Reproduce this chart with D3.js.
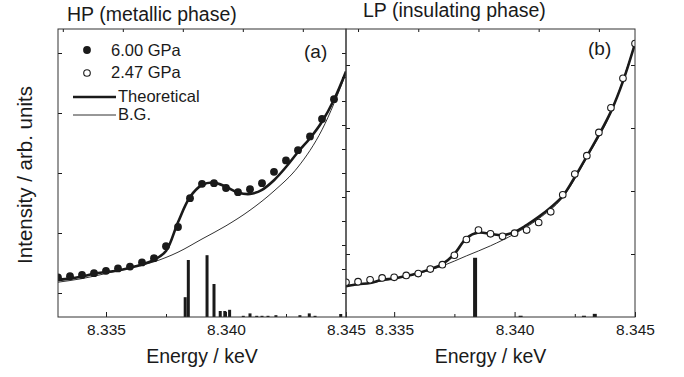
<!DOCTYPE html>
<html>
<head>
<meta charset="utf-8">
<script src="https://cdn.jsdelivr.net/npm/d3@7"></script>
<style>
  body { margin: 0; background: #fff; }
  svg { font-family: "Liberation Sans", Arial, sans-serif; }
</style>
</head>
<body>
<div id="chart"></div>
<script>
// energies of the measured points (keV)
const energyPts = [8.3330, 8.3335, 8.3340, 8.3345, 8.3350, 8.3355, 8.3360, 8.3365, 8.3370, 8.3375,
                   8.3380, 8.3385, 8.3390, 8.3395, 8.3400, 8.3405, 8.3410, 8.3415, 8.3420, 8.3425,
                   8.3430, 8.3435, 8.3440, 8.3445, 8.3450];

// HP, 6.00 GPa
const hpObs = [0.66, 0.68, 0.70, 0.73, 0.77, 0.81, 0.84, 0.91, 0.98, 1.18,
               1.50, 1.98, 2.22, 2.23, 2.15, 2.08, 2.13, 2.23, 2.42, 2.61,
               2.78, 3.01, 3.30, 3.63, null];
const hpTheory = [0.62, 0.64, 0.675, 0.72, 0.75, 0.775, 0.82, 0.875, 0.95, 1.10,
                  1.58, 2.00, 2.20, 2.24, 2.17, 2.075, 2.05, 2.12, 2.28, 2.50,
                  2.75, 2.98, 3.255, 3.62, 4.09];

// LP, 2.47 GPa
const lpObs = [0.55, 0.56, 0.59, 0.62, 0.63, 0.66, 0.69, 0.76, 0.83, 0.98,
               1.23, 1.38, 1.32, 1.28, 1.33, 1.38, 1.50, 1.67, 1.94, 2.27,
               2.56, 2.93, 3.32, 3.79, 4.34];
const lpTheory = [0.49, 0.52, 0.54, 0.59, 0.61, 0.65, 0.70, 0.76, 0.84, 1.00,
                  1.25, 1.34, 1.32, 1.30, 1.35, 1.46, 1.59, 1.74, 1.92, 2.22,
                  2.55, 2.89, 3.26, 3.74, 4.34];

// background curves
const bgEnergy = [8.333, 8.334, 8.335, 8.336, 8.337, 8.338, 8.339, 8.340, 8.341, 8.342, 8.343, 8.344, 8.345];
const hpBG = [0.58, 0.64, 0.725, 0.82, 0.92, 1.08, 1.30, 1.52, 1.78, 2.10, 2.50, 3.12, 4.06];
const lpBG = [0.49, 0.54, 0.61, 0.69, 0.81, 0.97, 1.13, 1.32, 1.56, 1.90, 2.53, 3.25, 4.34];

// calculated transitions (stick spectra)
const hpStickE = [8.33830, 8.33843, 8.33921, 8.33950, 8.33976, 8.33995, 8.34015, 8.34072, 8.34100,
                  8.34128, 8.34150, 8.34175, 8.34208, 8.34308, 8.34347, 8.34371, 8.34478];
const hpStickH = [0.33, 0.95, 1.03, 0.55, 0.10, 0.10, 0.12, 0.02, 0.06,
                  0.02, 0.02, 0.02, 0.03, 0.03, 0.06, 0.02, 0.05];
const lpStickE = [8.33836, 8.34025, 8.34288, 8.34333];
const lpStickH = [0.94, 0.02, 0.02, 0.05];

// ticks
const xTicks = [8.335, 8.340, 8.345];
const xMinorTicks = [8.3375, 8.3425];
const hpTopTicks = [8.3332, 8.3357, 8.3382, 8.3407, 8.3432];
const lpTopTicks = [8.3335, 8.3360, 8.3385, 8.3410, 8.3435];
const hpLeftTicks = [0.4, 1.4, 2.4, 3.4, 4.4];
const hpRightTicks = [0.4, 0.8, 1.2, 1.6, 2.0, 2.4, 2.8, 3.2, 3.6, 4.0, 4.4];
const lpTicks = [1, 2, 3, 4];

const width = 684, height = 377;
const plotTop = 29, plotBottom = 317;
const ink = "#1a1a1a";

const svg = d3.select("#chart").append("svg")
  .attr("width", width)
  .attr("height", height);

function drawPanel(p) {
  const g = svg.append("g");
  const x = d3.scaleLinear().domain([8.333, 8.345]).range([p.left, p.right]);
  const y = d3.scaleLinear().domain([0, p.yMax]).range([plotBottom, plotTop]);

  g.append("clipPath").attr("id", p.id + "-clip")
    .append("rect")
    .attr("x", p.left).attr("y", plotTop)
    .attr("width", p.right - p.left).attr("height", plotBottom - plotTop);

  const plot = g.append("g").attr("clip-path", `url(#${p.id}-clip)`);

  // sticks
  plot.selectAll(".stick")
    .data(p.stickE.map((e, i) => ({ e, h: p.stickH[i] })))
    .join("rect")
    .attr("x", d => x(d.e) - p.stickW / 2)
    .attr("y", d => y(d.h))
    .attr("width", p.stickW)
    .attr("height", d => y(0) - y(d.h))
    .attr("fill", ink);

  // background
  const bgLine = d3.line().x((d, i) => x(bgEnergy[i])).y(d => y(d)).curve(d3.curveMonotoneX);
  plot.append("path").attr("d", bgLine(p.bg))
    .attr("fill", "none").attr("stroke", ink).attr("stroke-width", 0.9);

  // theoretical
  const thLine = d3.line().x((d, i) => x(energyPts[i])).y(d => y(d)).curve(d3.curveCatmullRom.alpha(0.5));
  plot.append("path").attr("d", thLine(p.theory))
    .attr("fill", "none").attr("stroke", ink).attr("stroke-width", 2.6);

  // observed
  const pts = p.obs.map((v, i) => ({ e: energyPts[i], v })).filter(d => d.v !== null);
  plot.selectAll(".pt")
    .data(pts)
    .join("circle")
    .attr("cx", d => x(d.e))
    .attr("cy", d => y(d.v))
    .attr("r", p.filled ? 3.9 : 3.3)
    .attr("fill", p.filled ? ink : "#fff")
    .attr("stroke", ink)
    .attr("stroke-width", p.filled ? 0 : 1.1);

  // axes
  const bx = g.append("g").attr("transform", `translate(0,${plotBottom})`)
    .call(d3.axisBottom(x).tickValues(xTicks).tickSizeInner(-5).tickSizeOuter(0)
      .tickPadding(7).tickFormat(d3.format(".3f")));
  bx.selectAll("text").attr("font-size", "15.5px").attr("fill", ink)
    .attr("font-family", "Liberation Sans, Arial, sans-serif");

  g.append("g").attr("transform", `translate(0,${plotBottom})`)
    .call(d3.axisBottom(x).tickValues(xMinorTicks).tickSizeInner(-3).tickSizeOuter(0).tickFormat(""));

  g.append("g").attr("transform", `translate(0,${plotTop})`)
    .call(d3.axisTop(x).tickValues(p.topTicks).tickSizeInner(-3).tickSizeOuter(0).tickFormat(""));

  g.append("g").attr("transform", `translate(${p.left},0)`)
    .call(d3.axisLeft(y).tickValues(p.leftTicks).tickSizeInner(-4).tickSizeOuter(0).tickFormat(""));

  g.append("g").attr("transform", `translate(${p.right},0)`)
    .call(d3.axisRight(y).tickValues(p.rightTicks).tickSizeInner(-4).tickSizeOuter(0).tickFormat(""));

  g.selectAll(".domain").remove();
  g.selectAll(".tick line").attr("stroke", ink);

  // frame
  g.append("rect")
    .attr("x", p.left).attr("y", plotTop)
    .attr("width", p.right - p.left).attr("height", plotBottom - plotTop)
    .attr("fill", "none").attr("stroke", "#333").attr("stroke-width", 1);

  // texts
  g.append("text")
    .attr("x", p.titleX).attr("y", p.titleY)
    .attr("font-size", "19.5px").attr("fill", ink)
    .text(p.title);

  g.append("text")
    .attr("x", p.tagX).attr("y", p.tagY)
    .attr("font-size", "19px").attr("fill", ink)
    .text(p.tag);

  g.append("text")
    .attr("x", (p.left + p.right) / 2).attr("y", 363)
    .attr("text-anchor", "middle")
    .attr("font-size", "19.5px").attr("fill", ink)
    .text("Energy / keV");
}

drawPanel({
  id: "hp", left: 58, right: 346, yMax: 4.8,
  obs: hpObs, theory: hpTheory, bg: hpBG, filled: true,
  stickE: hpStickE, stickH: hpStickH, stickW: 3,
  topTicks: hpTopTicks, leftTicks: hpLeftTicks, rightTicks: hpRightTicks,
  title: "HP (metallic phase)", titleX: 67, titleY: 21,
  tag: "(a)", tagX: 304, tagY: 58
});

drawPanel({
  id: "lp", left: 346, right: 635, yMax: 288 / 63,
  obs: lpObs, theory: lpTheory, bg: lpBG, filled: false,
  stickE: lpStickE, stickH: lpStickH, stickW: 4,
  topTicks: lpTopTicks, leftTicks: lpTicks, rightTicks: lpTicks,
  title: "LP (insulating phase)", titleX: 363, titleY: 17,
  tag: "(b)", tagX: 588, tagY: 54.5
});

// y axis label
svg.append("text")
  .attr("transform", "translate(32,175) rotate(-90)")
  .attr("text-anchor", "middle")
  .attr("font-size", "20.5px").attr("fill", ink)
  .text("Intensity / arb. units");

// legend (panel a)
const legend = svg.append("g").attr("font-size", "16.5px").attr("fill", ink);
legend.append("circle").attr("cx", 87).attr("cy", 50).attr("r", 3.9).attr("fill", ink);
legend.append("text").attr("x", 111).attr("y", 56).text("6.00 GPa");
legend.append("circle").attr("cx", 87).attr("cy", 73).attr("r", 3.3)
  .attr("fill", "#fff").attr("stroke", ink).attr("stroke-width", 1.1);
legend.append("text").attr("x", 111).attr("y", 78).text("2.47 GPa");
legend.append("line").attr("x1", 73).attr("x2", 116).attr("y1", 97).attr("y2", 97)
  .attr("stroke", ink).attr("stroke-width", 2.6);
legend.append("text").attr("x", 118).attr("y", 102).text("Theoretical");
legend.append("line").attr("x1", 73).attr("x2", 116).attr("y1", 115).attr("y2", 115)
  .attr("stroke", ink).attr("stroke-width", 0.9);
legend.append("text").attr("x", 118).attr("y", 120).text("B.G.");
</script>
</body>
</html>
